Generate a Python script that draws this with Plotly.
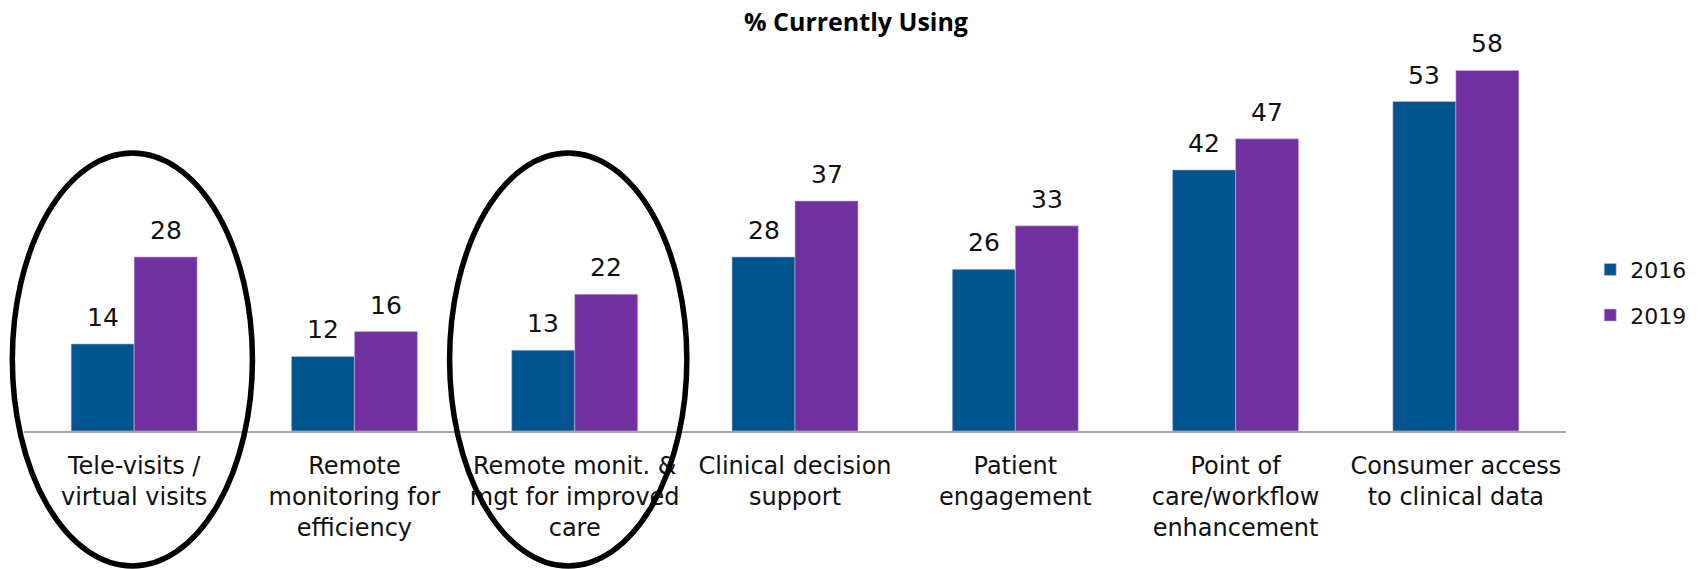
import plotly.graph_objects as go

categories = [
    "Tele-visits /<br>virtual visits",
    "Remote<br>monitoring for<br>efficiency",
    "Remote monit. &<br>mgt for improved<br>care",
    "Clinical decision<br>support",
    "Patient<br>engagement",
    "Point of<br>care/workflow<br>enhancement",
    "Consumer access<br>to clinical data",
]
series_names = ["2016", "2019"]
values_2016 = [14, 12, 13, 28, 26, 42, 53]
values_2019 = [28, 16, 22, 37, 33, 47, 58]
highlighted = [0, 2]  # circled categories

colors = {"2016": "#00558F", "2019": "#7030A0"}

W, H = 1704, 569
ML, MR, MT, MB = 24, 138, 58, 138
YMAX = 60

fig = go.Figure()
for name, vals in zip(series_names, [values_2016, values_2019]):
    fig.add_trace(go.Bar(
        name=name, x=categories, y=vals,
        marker=dict(color=colors[name], line=dict(width=0.6, color="#C8B8E0")),
        legendgroup=name,
    ))

# value labels above bars
half_bar_px = 31.5
for sign, vals in zip([-1, 1], [values_2016, values_2019]):
    for c, v in zip(categories, vals):
        fig.add_annotation(
            x=c, y=v, xref="x", yref="y", text=str(v), showarrow=False,
            xshift=sign * half_bar_px, yshift=10, yanchor="bottom",
            font=dict(family="DejaVu Sans", size=25, color="#111111"),
        )

# ellipses around highlighted categories (paper coords derived from category index)
plot_h = H - MT - MB
ncat = len(categories)
for idx, (dx0, dx1) in zip(highlighted, [(-0.553, 0.537), (-0.568, 0.509)]):
    cx = idx + 0.5
    fig.add_shape(
        type="circle", xref="paper", yref="paper",
        x0=(cx + dx0) / ncat, x1=(cx + dx1) / ncat,
        y0=-135 / plot_h, y1=278 / plot_h,
        line=dict(color="black", width=5.5),
    )

fig.update_layout(
    width=W, height=H,
    margin=dict(l=ML, r=MR, t=MT, b=MB),
    paper_bgcolor="white", plot_bgcolor="white",
    barmode="group", bargap=0.428, bargroupgap=0,
    title=dict(text="<b>% Currently Using</b>", x=856 / W, xanchor="center",
               y=1 - 22 / H, yanchor="middle",
               font=dict(family="Open Sans", size=25, color="#000000")),
    legend=dict(x=1.0157, xanchor="left", y=0.489, yanchor="top",
                font=dict(family="DejaVu Sans", size=22, color="#111111"),
                tracegroupgap=14, bgcolor="rgba(0,0,0,0)"),
    showlegend=True,
    xaxis=dict(showline=True, linecolor="#A6A6A6", linewidth=2, ticks="",
               tickfont=dict(family="DejaVu Sans", size=24, color="#111111"),
               ticklabelstandoff=12, showgrid=False, zeroline=False,
               automargin=False),
    yaxis=dict(range=[0, YMAX], visible=False, showgrid=False, zeroline=False),
)

# remove the browser's default 8px body margin so the figure fills the window exactly
fig.write_html("out.html", config={"displayModeBar": False},
               post_script="document.body.style.margin='0';")
